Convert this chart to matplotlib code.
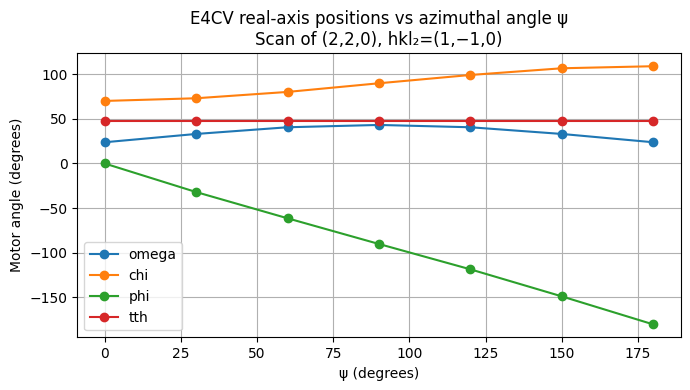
import matplotlib.pyplot as plt
import numpy as np

psi = [0, 30, 60, 90, 120, 150, 180]
omega = [23.8, 33.1, 40.6, 43.2, 40.6, 33.1, 23.8]
chi = [70.1, 73.1, 80.2, 89.9, 99.2, 106.7, 109.0]
phi = [0.0, -32.0, -61.4, -90.2, -118.6, -148.9, -180.3]
tth = [47.6, 47.6, 47.6, 47.6, 47.6, 47.6, 47.6]

plt.figure(figsize=(6.9, 3.9), dpi=100)
plt.plot(psi, omega, marker="o", label="omega")
plt.plot(psi, chi, marker="o", label="chi")
plt.plot(psi, phi, marker="o", label="phi")
plt.plot(psi, tth, marker="o", label="tth")
plt.xlabel("ψ (degrees)")
plt.ylabel("Motor angle (degrees)")
plt.title("E4CV real-axis positions vs azimuthal angle ψ\nScan of (2,2,0), hkl₂=(1,−1,0)")
plt.legend(loc="lower left")
plt.grid(True)
plt.subplots_adjust(left=0.112, right=0.9865, top=0.8633, bottom=0.1351)
plt.savefig("out.png", dpi=100)
